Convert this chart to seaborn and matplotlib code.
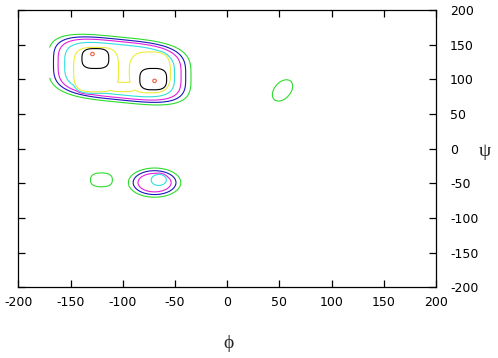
import numpy as np
import matplotlib
matplotlib.use("Agg")
import matplotlib.pyplot as plt
import seaborn as sns

# ---- contour levels (outer to inner) and their colours ----
levels = [1, 2, 3, 4, 5, 6, 7]
level_colors = ["#2edc2e", "#1818b8", "#e020e0", "#33dede", "#ecec3a", "#000000", "#e8603a"]

# ---- density components (phi/psi centre, extents, shape) ----
comp_name   = ["beta_env", "beta_left", "beta_right", "beta_bridge", "peak_left", "peak_right",
               "top_left", "top_right", "alpha_R", "alpha_core", "alpha_side", "alpha_L"]
comp_phi    = [-103, -125.5, -74, -100, -126.2, -70.8, -129, -69.5, -69.5, -65.4, -120.4, 53]
comp_psi    = [114, 114, 110, 89, 130, 100.3, 136.5, 97.8, -49, -45, -45, 84]
comp_sx     = [62, 24, 22, 13.4, 14.5, 14.5, 4.6, 4.6, 20.6, 9.6, 12.8, 19.6]
comp_sy     = [42.7, 35.8, 33, 7.5, 16.2, 17.4, 6.5, 6.5, 17.3, 10.6, 12.2, 10.4]
comp_pow    = [3.5, 3.5, 3, 4, 3, 3, 2, 2, 2, 2, 2.5, 2]
comp_height = [4.6, 5.6, 5.6, 5.6, 6.6, 6.6, 7.3, 7.3, 3.95, 4.3, 1.4, 1.4]
comp_width  = [0.08, 0.05, 0.05, 0.05, 0.05, 0.05, 0.2, 0.2, 0.2, 0.1, 0.2, 0.2]
comp_shear  = [0.15, 0, 0, 0, 0, 0, 0, 0, 0, 0, 0, 0]
comp_rot    = [0, 0, 0, 0, 0, 0, 0, 0, 0, 0, 0, 70]

x_ticks = [-200, -150, -100, -50, 0, 50, 100, 150, 200]
y_ticks = [-200, -150, -100, -50, 0, 50, 100, 150, 200]

# ---- build the density grid ----
phi = np.arange(-170, 180.01, 0.5)
psi = np.arange(-180, 180.01, 0.5)
PHI, PSI = np.meshgrid(phi, psi)
tau = 0.15
fields = []
for i in range(len(comp_name)):
    dx = PHI - comp_phi[i]
    dy = PSI - comp_psi[i] + comp_shear[i] * dx
    th = np.deg2rad(comp_rot[i])
    u = dx * np.cos(th) + dy * np.sin(th)
    v = -dx * np.sin(th) + dy * np.cos(th)
    p = comp_pow[i]
    rho = (np.abs(u / comp_sx[i]) ** p + np.abs(v / comp_sy[i]) ** p) ** (1.0 / p)
    z = np.clip((rho - 1.0) / comp_width[i], -50, 50)
    fields.append(comp_height[i] / (1.0 + np.exp(z)))
stack = np.array(fields) / tau
m = stack.max(axis=0)
F = tau * (m + np.log(np.exp(stack - m).sum(axis=0)))

# ---- plot ----
sns.set_theme(style="white")
plt.rcParams["font.family"] = ["DejaVu Sans"]
plt.rcParams["axes.unicode_minus"] = False

fig = plt.figure(figsize=(4.98, 3.58), dpi=100)
ax = fig.add_axes([18.3 / 498, 1 - 287.3 / 358, (436 - 18.3) / 498, (287.3 - 10) / 358])
ax.contour(PHI, PSI, F, levels=levels, colors=level_colors, linewidths=0.8)

ax.set_xlim(-200, 200)
ax.set_ylim(-200, 200)
ax.set_xticks(x_ticks)
ax.set_yticks(y_ticks)
ax.set_xticklabels([str(t) for t in x_ticks], fontsize=9)
ax.set_yticklabels([str(t) for t in y_ticks], fontsize=9)
ax.tick_params(axis="both", direction="in", length=5, width=0.9, color="black",
               top=True, bottom=True, left=True, right=True,
               labelleft=False, labelright=True, labelbottom=True, labeltop=False,
               labelcolor="black")
ax.tick_params(axis="x", pad=6.5)
ax.tick_params(axis="y", pad=10)
for s in ax.spines.values():
    s.set_visible(True)
    s.set_color("black")
    s.set_linewidth(0.9)
ax.set_facecolor("white")

fig.text(228 / 498, 1 - 344 / 358, "\u03d5", family=["Liberation Serif", "DejaVu Serif"],
         fontsize=14, ha="center", va="center")
fig.text(485 / 498, 1 - 151 / 358, "\u03c8", family=["Liberation Serif", "DejaVu Serif"],
         fontsize=14, ha="center", va="center")

fig.savefig("out.png", dpi=100, facecolor="white")
